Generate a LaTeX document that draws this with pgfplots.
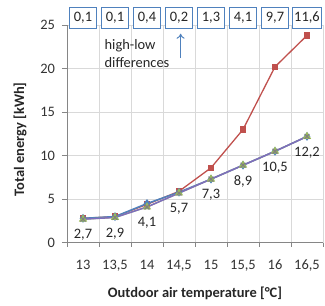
\documentclass[border=0pt]{standalone}
\usepackage{fontspec}
\setmainfont{Carlito}
\usepackage{pgfplots}
\pgfplotsset{compat=1.18}
\usetikzlibrary{arrows.meta}
\definecolor{xblue}{HTML}{4F81BD}
\definecolor{xred}{HTML}{C0504D}
\definecolor{xgreen}{HTML}{9BBB59}
\definecolor{xpurple}{HTML}{7E6DBE}
\definecolor{xgrid}{HTML}{D9D9D9}
\definecolor{xaxis}{HTML}{868686}
\newcommand{\fs}{\fontsize{14.5}{16}\selectfont}
\begin{document}
\fs
\begin{tikzpicture}
\path[use as bounding box] (-67bp,-63.3bp) rectangle (258bp,242.7bp);
\begin{axis}[
  scale only axis, width=256bp, height=217.7bp,
  xmin=-0.5, xmax=7.5, ymin=0, ymax=25,
  clip=false,
  axis lines=left, axis line style={-, xaxis, line width=0.8pt},
  ytick={0,5,...,25},
  xtick={0,...,7},
  xticklabels={13,{13,5},14,{14,5},15,{15,5},16,{16,5}},
  minor xtick={-0.5,0.5,...,7.5},
  major x tick style={draw=none},
  minor x tick style={xaxis, line width=0.8pt},
  y tick style={xaxis, line width=0.8pt},
  tick align=outside,
  major tick length=5bp, minor tick length=4bp,
  xminorgrids=true, ymajorgrids=true, xmajorgrids=false,
  grid style={xgrid, line width=0.8pt},
  minor grid style={xgrid, line width=0.8pt},
  /pgf/number format/assume math mode=true,
  ticklabel style={font=\fs, text=black!80},
  x tick label style={yshift=-7bp},
  y tick label style={xshift=-2bp},
  xlabel={\bfseries Outdoor air temperature [°C]},
  ylabel={\bfseries Total energy [kWh]},
  xlabel style={at={(axis description cs:0.5,0)}, anchor=center, yshift=-50.5bp, text=black!85},
  ylabel style={at={(axis description cs:-0.183,0.475)}, anchor=center, text=black!85},
]
\addplot[xred, line width=1.3pt, mark=square*, mark size=2.5pt, mark options={fill=xred}] coordinates {
 (0,2.8) (1,3.0) (2,4.4) (3,5.9) (4,8.6) (5,13.0) (6,20.2) (7,23.8)};
\addplot[xblue, line width=1.5pt, mark=diamond*, mark size=3.2pt, mark options={fill=xblue}] coordinates {
 (0,2.8) (1,3.0) (2,4.5) (3,5.8) (4,7.3) (5,8.9) (6,10.5) (7,12.2)};
\addplot[xgreen, line width=1.3pt, mark=triangle*, mark size=3.5pt, mark options={fill=xgreen!80!gray}] coordinates {
 (0,2.7) (1,2.9) (2,4.1) (3,5.7) (4,7.3) (5,8.9) (6,10.5) (7,12.2)};
\addplot[xpurple, line width=1.5pt, mark=x, mark size=3.5pt, mark options={gray, line width=1.1pt},
  nodes near coords, point meta=explicit symbolic,
  every node near coord/.style={anchor=north, yshift=-5bp, text=black!85, font=\fs}]
 table[meta=lab] {
 x y lab
 0 2.7 {2,7}
 1 2.9 {2,9}
 2 4.1 {4,1}
 3 5.7 {5,7}
 4 7.3 {7,3}
 5 8.9 {8,9}
 6 10.5 {10,5}
 7 12.2 {12,2}
 };
\addplot[draw=none, mark=none,
  nodes near coords, point meta=explicit symbolic,
  every node near coord/.style={anchor=center, draw=xblue, fill=white, line width=0.9pt,
     inner xsep=2bp, minimum height=20bp, minimum width=27bp, text=black!85,
     font=\fs}]
 table[meta=d] {
 x y d
 0 25.85 {0,1}
 1 25.85 {0,1}
 2 25.85 {0,4}
 3 25.85 {0,2}
 4 25.85 {1,3}
 5 25.85 {4,1}
 6 25.85 {9,7}
 7 25.85 {11,6}
 };
\node[anchor=west, align=left, text=black!85, font=\fontsize{14.5}{18}\selectfont] at (axis cs:0.52,21.7) {high-low\\differences};
\draw[xblue, -{To[length=5bp, width=8bp]}, line width=1pt] (axis cs:3.05,21.2) -- (axis cs:3.05,24.0);
\end{axis}
\end{tikzpicture}
\end{document}
